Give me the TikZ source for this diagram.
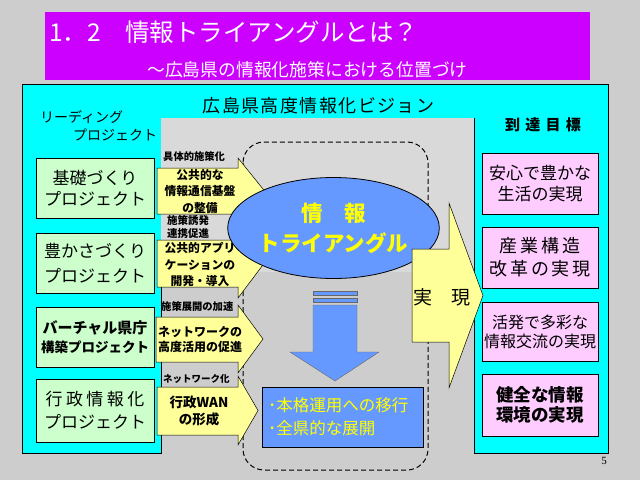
\documentclass[tikz,border=0pt]{standalone}
\usepackage{fontspec}
\setmainfont{Noto Sans CJK JP}
\newfontfamily\pgserif{Liberation Serif}
\usetikzlibrary{shapes.geometric}
\definecolor{marble}{HTML}{CDCDCD}
\definecolor{marblelt}{HTML}{D9D9D9}
\definecolor{titlepurple}{HTML}{CC00FF}
\definecolor{cyanbg}{HTML}{00FFFF}
\definecolor{gboxc}{HTML}{CCFFCC}
\definecolor{pboxc}{HTML}{FFCCFF}
\definecolor{yarrow}{HTML}{FFFF99}
\definecolor{bluec}{HTML}{6699FF}
\definecolor{ytext}{HTML}{FFFF00}
\newcommand{\fsz}[2]{\fontsize{#1}{#2}\selectfont}
\tikzset{
  gbox/.style={draw=black, line width=0.6pt, fill=gboxc, minimum width=118pt, align=center, inner sep=0pt},
  pbox/.style={draw=black, line width=0.6pt, fill=pboxc, minimum width=116pt, align=center, inner sep=0pt},
  yarr/.style={draw=black, line width=0.5pt, fill=yarrow},
  atext/.style={align=center, font=\bfseries\fsz{11.8}{16.5}, inner sep=0pt},
  smalllbl/.style={font=\bfseries\fsz{10.3}{13}, inner sep=0pt, anchor=west},
  downarr/.style={fill=bluec, draw=black!60, line width=0.4pt},
}
\begin{document}
\begin{tikzpicture}[x=1pt,y=-1pt]
\useasboundingbox (0,0) rectangle (640,480);
\fill[marble] (0,0) rectangle (640,480);

% title
\node[fill=titlepurple, minimum width=545pt, minimum height=68pt, inner sep=0pt] (tbox) at (317.5,46) {};
\node[anchor=west, inner sep=0pt, text=white, font=\fsz{24.5}{24.5}] (title) at (49,32) {1．2　情報トライアングルとは？};
\node[anchor=west, inner sep=0pt, text=white, font=\fsz{17.8}{17.8}] (sub) at (147,70) {～広島県の情報化施策における位置づけ};

% cyan frame
\draw[fill=cyanbg, line width=0.6pt] (22,84) -- (608,84) -- (608,453) -- (474,453) -- (474,118) -- (161,118) -- (161,453) -- (22,453) -- cycle;
\fill[marblelt] (161.3,118.3) rectangle (473.7,272);

\node[inner sep=0pt, font=\fsz{18}{18}\addfontfeature{LetterSpace=8}] (vision) at (318.5,106) {広島県高度情報化ビジョン};
\node[inner sep=0pt, anchor=west, font=\fsz{14}{14}] (lead1) at (40,117) {リーディング};
\node[inner sep=0pt, anchor=west, font=\fsz{14}{14}] (lead2) at (73,135) {プロジェクト};

% dashed rounded frame
\draw[dash pattern=on 5pt off 3pt, line width=1pt, rounded corners=21pt] (243,142) rectangle (428,470);

% green boxes
\node[gbox, minimum height=60pt, font=\fsz{17}{21.5}] (g1) at (95,188) {基礎づくり\\プロジェクト};
\node[gbox, minimum height=60pt, font=\fsz{17}{25}] (g2) at (95,263) {豊かさづくり\\プロジェクト};
\node[gbox, minimum height=60pt, font=\bfseries\fsz{15}{19}] (g3) at (95,337) {バーチャル県庁\\{\fsz{13.5}{19}構築プロジェクト}};
\node[gbox, minimum height=63pt, font=\fsz{17}{23}] (g4) at (95,410.5) {{\addfontfeature{LetterSpace=20}行政情報化}\\プロジェクト};

% yellow arrows
\draw[yarr] (157,168) -- (238,168) -- (238,158) -- (265,191.5) -- (238,225) -- (238,214) -- (157,214) -- cycle;
\draw[yarr] (157,240) -- (238,240) -- (238,229) -- (264,263.5) -- (238,298) -- (238,287) -- (157,287) -- cycle;
\draw[yarr] (156,317) -- (238,317) -- (238,305) -- (263,339) -- (238,373) -- (238,362) -- (156,362) -- cycle;
\draw[yarr] (157,387) -- (238,387) -- (238,376) -- (258,410.5) -- (238,445) -- (238,435) -- (157,435) -- cycle;

\node[atext] (a1) at (200,191.5) {公共的な\\情報通信基盤\\の整備};
\node[atext] (a2) at (200,264.5) {公共的アプリ\\ケーションの\\開発・導入};
\node[atext, font=\bfseries\fsz{12}{15.5}] (a3) at (200,339.5) {ネットワークの\\高度活用の促進};
\node[atext, font=\bfseries\fsz{13.5}{16.5}] (a4) at (199,411) {行政WAN\\の形成};

\node[smalllbl] (l1) at (163,157) {具体的施策化};
\node[smalllbl, align=left, font=\bfseries\fsz{10.5}{13.5}] (l2) at (167,227) {施策誘発\\連携促進};
\node[smalllbl] (l3) at (161,307) {施策展開の加速};
\node[smalllbl, font=\bfseries\fsz{9.5}{12}] (l4) at (163,379) {ネットワーク化};

% information triangle
\node[ellipse, draw=black, line width=0.8pt, fill=bluec, minimum width=163pt, minimum height=101pt, inner sep=0pt, text=ytext, font=\bfseries\fsz{21.5}{30}, align=center] (tri) at (333.5,228) {情　報\\トライアングル};

% striped down arrow
\draw[downarr] (313,291) rectangle (357,295);
\draw[downarr] (313,298) rectangle (357,302);
\draw[downarr] (313,305) -- (357,305) -- (357,352) -- (379,352) -- (335,381) -- (290,352) -- (313,352) -- cycle;

\node[draw=black, line width=0.6pt, fill=bluec, minimum width=161pt, minimum height=60pt, text width=149pt, inner xsep=6pt, align=left, text=ytext, font=\fsz{16.5}{23}] (goal) at (342.5,417) {･本格運用への移行\\･全県的な展開};

% big arrow
\draw[yarr] (412,249) -- (449,249) -- (449,203) -- (483,295.5) -- (449,388) -- (449,342) -- (412,342) -- cycle;
\node[inner sep=0pt, font=\fsz{19}{19}] (jitsu) at (442,297) {実　現};

% right column
\node[inner sep=0pt, font=\bfseries\fsz{15}{15}\addfontfeature{LetterSpace=35}] (goalhdr) at (543,125) {到達目標};
\node[pbox, minimum height=61pt, font=\fsz{17}{21}] (p1) at (540,183.5) {安心で豊かな\\生活の実現};
\node[pbox, minimum height=61pt, font=\fsz{18}{23}\addfontfeature{LetterSpace=15}] (p2) at (540,257.5) {産業構造\\改革の実現};
\node[pbox, minimum height=59pt, font=\fsz{16}{19}] (p3) at (540,331.5) {活発で多彩な\\情報交流の実現};
\node[pbox, minimum height=62pt, font=\bfseries\fsz{17.5}{20}] (p4) at (540,405) {健全な情報\\環境の実現};

\node[inner sep=0pt, font=\pgserif\fsz{11}{11}] (pg) at (604,461) {5};
\end{tikzpicture}
\end{document}
